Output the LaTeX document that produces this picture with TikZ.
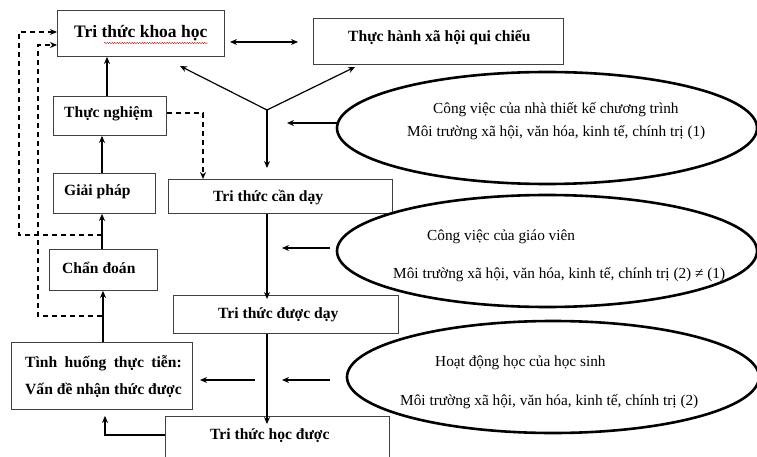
\documentclass[tikz,border=0pt]{standalone}
\usepackage{fontspec}
\setmainfont{Liberation Serif}
\usetikzlibrary{arrows.meta,decorations.pathmorphing,shapes.geometric}
\newcommand{\bfs}{\fontsize{15.6}{17}\selectfont\bfseries}
\newlength{\vdwidth}
\tikzset{
  box/.style={draw=black!75, line width=0.9pt, anchor=north west, inner sep=0pt},
  btxt/.style={font=\bfs, inner sep=0pt, anchor=west},
  etxt/.style={font=\fontsize{15.3}{17}\selectfont, inner sep=0pt, anchor=west},
  ell/.style={draw=black, line width=2.6pt, ellipse, inner sep=0pt},
  arr/.style={line width=1.2pt, -{Stealth[length=7pt,width=6pt]}},
  darr/.style={line width=1.2pt, dash pattern=on 5pt off 4pt, -{Stealth[length=7pt,width=6pt]}},
}
\begin{document}
\settowidth{\vdwidth}{\bfs Vấn đề nhận thức được}
\begin{tikzpicture}[x=1pt,y=-1pt]
\useasboundingbox (0,0) rectangle (757,457);
\clip (0,0) rectangle (757,457);
\fill[white] (0,0) rectangle (757,457);
% boxes
\node[box, minimum width=167pt, minimum height=46pt] (kh) at (57,10) {};
\node[box, minimum width=250pt, minimum height=46pt] (th) at (313,18) {};
\node[box, minimum width=113pt, minimum height=39pt] (tn) at (53,96) {};
\node[box, minimum width=102pt, minimum height=40pt] (gp) at (53,173) {};
\node[box, minimum width=224pt, minimum height=34pt] (cd) at (168,179) {};
\node[box, minimum width=108pt, minimum height=41pt] (chd) at (49,249) {};
\node[box, minimum width=225pt, minimum height=38pt] (dd) at (173,295) {};
\node[box, minimum width=181pt, minimum height=67pt] (tht) at (11,342) {};
\node[box, minimum width=224pt, minimum height=55pt] (hd) at (165,416) {};
% box texts
\node[btxt, font=\fontsize{17.5}{19}\selectfont\bfseries] (t1) at (74,33) {Tri thức khoa học};
\node[btxt] (t2) at (348,37) {Thực hành xã hội qui chiếu};
\node[btxt] (t3) at (64,114) {Thực nghiệm};
\node[btxt] (t4) at (64,192) {Giải pháp};
\node[btxt] (t5) at (213,198) {Tri thức cần dạy};
\node[btxt] (t6) at (62,268) {Chẩn đoán};
\node[btxt] (t7) at (218,315) {Tri thức được dạy};
\node[btxt] (t8) at (25,363) {\hbox to \vdwidth{Tình\hfill huống\hfill thực\hfill tiễn:}};
\node[btxt] (t9) at (25,390) {Vấn đề nhận thức được};
\node[btxt] (t10) at (210,436) {Tri thức học được};
% squiggle
\draw[red!80!black, line width=0.4pt, decorate, decoration={snake, amplitude=0.6pt, segment length=2.5pt}] (104,43) -- (208,43);
% ellipses
\node[ell, minimum width=420pt, minimum height=112pt] (e1) at (547,128) {};
\node[ell, minimum width=420pt, minimum height=112pt] (e2) at (547,251) {};
\node[ell, minimum width=412pt, minimum height=112pt] (e3) at (553,377) {};
\node[etxt] (e1a) at (433,110) {Công việc của nhà thiết kế chương trình};
\node[etxt] (e1b) at (407,133) {Môi trường xã hội, văn hóa, kinh tế, chính trị (1)};
\node[etxt] (e2a) at (427,237) {Công việc của giáo viên};
\node[etxt] (e2b) at (393,275) {Môi trường xã hội, văn hóa, kinh tế, chính trị (2) ≠ (1)};
\node[etxt] (e3a) at (435,363) {Hoạt động học của học sinh};
\node[etxt] (e3b) at (400,402) {Môi trường xã hội, văn hóa, kinh tế, chính trị (2)};
% coordinates
\coordinate (y) at (267,110);
\coordinate (ya) at (180,66);
\coordinate (yb) at (355,67);
\coordinate (yc) at (267,168);
\coordinate (h1s) at (337,123);
\coordinate (h1e) at (287,123);
\coordinate (h2s) at (330,248);
\coordinate (h2e) at (282,248);
\coordinate (h3s) at (330,380);
\coordinate (h3e) at (282,380);
\coordinate (h4s) at (255,380);
\coordinate (h4e) at (200,380);
\coordinate (kl) at (230,42);
\coordinate (kr) at (298,42);
\coordinate (x107) at (107,0);
\coordinate (x102) at (102,0);
\coordinate (x103) at (103,0);
\coordinate (x105) at (105,0);
\coordinate (x203) at (203,0);
\coordinate (y113) at (0,113);
\coordinate (y435) at (0,435);
\coordinate (y32) at (0,32);
\coordinate (y45) at (0,45);
\coordinate (d1) at (102,235);
\coordinate (d1c) at (19,32);
\coordinate (d2) at (102,316);
\coordinate (d2c) at (38,45);
% connectors
\draw[line width=1.2pt, {Stealth[length=7pt,width=6pt]}-{Stealth[length=7pt,width=6pt]}] (kl) -- (kr);
\draw[arr] (y) -- (ya);
\draw[arr] (y) -- (yb);
\draw[arr] (y) -- (yc);
\draw[arr] (h1s) -- (h1e);
\draw[arr] (h2s) -- (h2e);
\draw[arr] (h3s) -- (h3e);
\draw[arr] (h4s) -- (h4e);
\draw[arr] (cd.south -| y) -- ([yshift=-4pt]dd.north -| y);
\draw[arr] (dd.south -| y) -- ([yshift=-8pt]hd.north -| y);
\draw[arr] (tn.north -| x107) -- (kh.south -| x107);
\draw[arr] (gp.north -| x102) -- (tn.south -| x102);
\draw[arr] (chd.north -| x102) -- (gp.south -| x102);
\draw[arr] (tht.north -| x103) -- (chd.south -| x103);
\draw[arr] (hd.west |- y435) -| ([yshift=-6pt]tht.south -| x105);
% dashed
\draw[darr] (tn.east |- y113) -| (cd.north -| x203);
\draw[darr] (d1) -| (d1c) -- (kh.west |- y32);
\draw[darr] (d2) -| (d2c) -- (kh.west |- y45);
\end{tikzpicture}
\end{document}
